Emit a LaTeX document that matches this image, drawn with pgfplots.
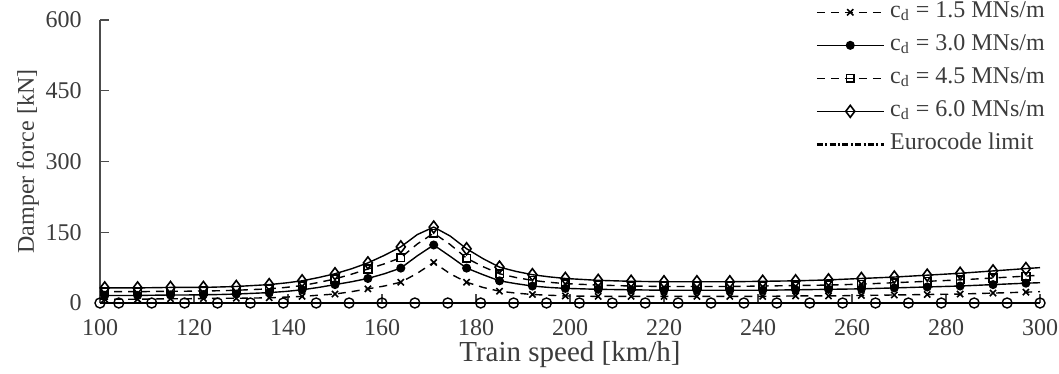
\documentclass[12pt,border=0pt]{standalone}
\usepackage{fontspec}
\setmainfont{Liberation Serif}
\usepackage{pgfplots}
\pgfplotsset{compat=1.18}
\definecolor{txt}{RGB}{60,60,60}
\begin{document}
\begin{tikzpicture}
\begin{axis}[
  scale only axis, width=470pt, height=141.5pt,
  xmin=100, xmax=300, ymin=0, ymax=600,
  xtick={100,120,...,300}, ytick={0,150,300,450,600},
  axis x line=bottom, axis y line=left,
  axis line style={-, black!70, line width=0.6pt},
  tick align=inside, major tick length=4.5pt,
  tick style={black!70, line width=0.6pt},
  /pgf/number format/assume math mode=true,
  ticklabel style={font=\normalsize, text=txt},
  xticklabel style={yshift=-4pt},
  yticklabel style={xshift=-5pt},
  every axis x label/.style={at={(axis description cs:0.5,0)}, yshift=-26pt, anchor=center, font=\fontsize{14.5}{17}\selectfont, text=txt},
  every axis y label/.style={at={(axis description cs:0,0.5)}, xshift=-36pt, rotate=90, anchor=center, font=\normalsize, text=txt},
  xlabel={Train speed [km/h]},
  ylabel={Damper force [kN]},
  clip=false,
  legend cell align=left,
  legend style={at={(axis description cs:0.7606,1.078)}, anchor=north west, draw=none, fill=none, inner sep=0pt, row sep=2.5pt, column sep=1pt, font=\normalsize, text=txt,
    nodes={inner sep=1.5pt, text height=8pt, text depth=3pt}},
  legend image code/.code={\draw[mark repeat=2,mark phase=2,#1] plot coordinates {(0pt,0pt) (16.75pt,0pt) (33.5pt,0pt)};},
  every axis plot/.append style={line width=0.7pt, black},
]
% c_d = 0 (circles on zero line)
\addplot[line width=0.7pt, mark=o, mark size=2.5pt, mark options={solid, line width=0.7pt}, forget plot] coordinates {
(100,0)(104,0)(111,0)(118,0)(125,0)(132,0)(139,0)(146,0)(153,0)(160,0)(167,0)(174,0)(181,0)(188,0)(195,0)(202,0)(209,0)(216,0)(223,0)(230,0)(237,0)(244,0)(251,0)(258,0)(265,0)(272,0)(279,0)(286,0)(293,0)(300,0)};
% 1.5
\addplot[dash pattern=on 4pt off 3pt, mark=x, mark size=2.2pt, mark repeat=2, mark phase=2, mark options={solid, line width=0.8pt}] coordinates {
(100,8)(101,8)(104.5,8)(108,8)(111.5,8.5)(115,9)(118.5,9)(122,9.5)(125.5,10)(129,10)(132.5,10.5)(136,11)(139.5,12.5)(143,14)(146.5,16.5)(150,19)(153.5,24)(157,30)(160.5,36)(164,44)(167.5,63)(171,86)(174.5,62)(178,44)(181.5,33)(185,25)(188.5,21)(192,18)(195.5,16.5)(199,15)(202.5,14.5)(206,14)(209.5,14)(213,14)(216.5,14)(220,14)(223.5,14)(227,14)(230.5,14)(234,14)(237.5,14)(241,14)(244.5,14.5)(248,15)(251.5,15)(255,15)(258.5,15.5)(262,16)(265.5,16.5)(269,17)(272.5,17.5)(276,18)(279.5,18.5)(283,19)(286.5,20)(290,21)(293.5,22)(297,23)(300,24)};
\addlegendentry{c\textsubscript{d} = 1.5 MNs/m}
% 3.0
\addplot[solid, mark=*, mark size=1.9pt, mark repeat=2, mark phase=2, mark options={solid}] coordinates {
(100,16)(101,16)(104.5,16)(108,16)(111.5,16.5)(115,17)(118.5,17)(122,17.5)(125.5,18)(129,19)(132.5,20.5)(136,22)(139.5,24.5)(143,28)(146.5,33)(150,39)(153.5,45)(157,52)(160.5,62)(164,74)(167.5,100)(171,123)(174.5,99)(178,74)(181.5,60)(185,47)(188.5,41)(192,36)(195.5,33)(199,31)(202.5,30)(206,29)(209.5,28.5)(213,28)(216.5,27.5)(220,27)(223.5,27)(227,27)(230.5,27)(234,27)(237.5,27)(241,27)(244.5,27.5)(248,28)(251.5,28.5)(255,29)(258.5,29.5)(262,30)(265.5,31)(269,32)(272.5,33)(276,34)(279.5,35)(283,36)(286.5,37.5)(290,39)(293.5,40.5)(297,42)(300,43)};
\addlegendentry{c\textsubscript{d} = 3.0 MNs/m}
% 4.5
\addplot[dash pattern=on 4pt off 3pt, mark=square, mark size=1.9pt, mark repeat=2, mark phase=2, mark options={solid, line width=0.8pt}] coordinates {
(100,24)(101,24)(104.5,24)(108,24)(111.5,24.5)(115,25)(118.5,25)(122,25.5)(125.5,26)(129,27)(132.5,28.5)(136,30)(139.5,33)(143,37)(146.5,43.5)(150,51)(153.5,61)(157,72)(160.5,83)(164,96)(167.5,125)(171,148)(174.5,124)(178,95)(181.5,77)(185,62)(188.5,54)(192,48)(195.5,44)(199,41)(202.5,39.5)(206,38)(209.5,37)(213,36)(216.5,35.5)(220,35)(223.5,35)(227,35)(230.5,35)(234,35)(237.5,35.5)(241,36)(244.5,36.5)(248,37)(251.5,37.5)(255,38)(258.5,39)(262,40)(265.5,41.5)(269,43)(272.5,44.5)(276,46)(279.5,47.5)(283,49)(286.5,51)(290,53)(293.5,55)(297,57)(300,59)};
\addlegendentry{c\textsubscript{d} = 4.5 MNs/m}
% 6.0
\addplot[solid, mark=diamond, mark size=3pt, mark repeat=2, mark phase=2, mark options={solid, line width=0.8pt}] coordinates {
(100,31)(101,32)(104.5,32)(108,32)(111.5,32.5)(115,33)(118.5,33)(122,33)(125.5,34)(129,35)(132.5,37)(136,39)(139.5,42.5)(143,47)(146.5,54)(150,62)(153.5,72.5)(157,85)(160.5,101)(164,119)(167.5,145)(171,161)(174.5,142)(178,115)(181.5,94)(185,76)(188.5,67)(192,60)(195.5,55.5)(199,52)(202.5,50)(206,48)(209.5,47)(213,46)(216.5,45.5)(220,45)(223.5,45)(227,45)(230.5,45)(234,45)(237.5,45.5)(241,46)(244.5,46.5)(248,47)(251.5,48)(255,49)(258.5,50.5)(262,52)(265.5,53.5)(269,55)(272.5,57)(276,59)(279.5,61)(283,63)(286.5,65.5)(290,68)(293.5,70.5)(297,73)(300,75)};
\addlegendentry{c\textsubscript{d} = 6.0 MNs/m}
\addlegendimage{line width=1.4pt, dash pattern=on 3pt off 1.2pt on 1pt off 1.2pt}
\addlegendentry{Eurocode limit}
\end{axis}
\pgfresetboundingbox
\path (-50pt,-35.5pt) rectangle (479.5pt,151.5pt);
\end{tikzpicture}
\end{document}
